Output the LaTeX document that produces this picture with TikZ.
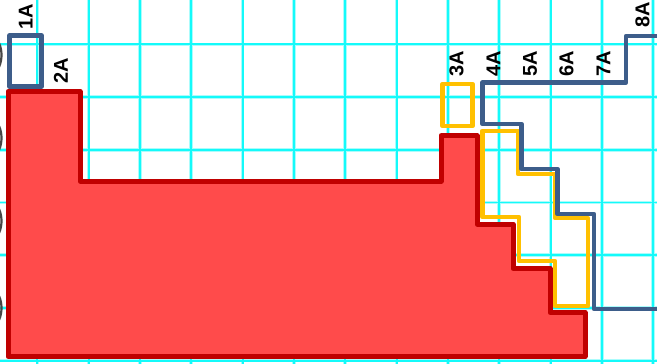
\documentclass[tikz,border=0pt]{standalone}
\usepackage{fontspec}
\setmainfont{Liberation Sans}
\definecolor{gridcyan}{RGB}{20,250,250}
\definecolor{gridglow}{RGB}{170,252,252}
\definecolor{redfill}{RGB}{255,75,75}
\definecolor{redline}{RGB}{192,0,0}
\definecolor{blueline}{RGB}{61,93,138}
\definecolor{yellowline}{RGB}{255,192,0}
\definecolor{edgegray}{RGB}{70,70,70}
\begin{document}
\begin{tikzpicture}[x=1pt,y=-1pt,line join=round,
  lbl/.style={font=\bfseries\fontsize{20}{20}\selectfont,rotate=90,inner sep=0pt,text=black},
  gridglowline/.style={draw=gridglow,line width=3.6pt},
  gridmain/.style={draw=gridcyan,line width=1.9pt},
  redshape/.style={draw=redline,fill=redfill,line width=5pt},
  blueshape/.style={draw=blueline,line width=4.6pt},
  yellowshape/.style={draw=yellowline,line width=4.6pt},
  edgearc/.style={draw=edgegray,line width=2.2pt}]
\useasboundingbox (0,0) rectangle (657,364);
\fill[white] (0,0) rectangle (657,364);
\begin{scope}
\clip (0,0) rectangle (657,364);
\foreach \i in {0,...,12}{
  \draw[gridglowline] ({37.3+51.33*\i},0) -- ({37.3+51.33*\i},364);
}
\foreach \j in {0,...,6}{
  \draw[gridglowline] (0,{44.3+52.73*\j}) -- (657,{44.3+52.73*\j});
}
\foreach \i in {0,...,12}{
  \draw[gridmain] ({37.3+51.33*\i},0) -- ({37.3+51.33*\i},364);
}
\foreach \j in {0,...,6}{
  \draw[gridmain] (0,{44.3+52.73*\j}) -- (657,{44.3+52.73*\j});
}
\foreach \y in {55,138,221,308}{
  \draw[edgearc] (-28.5,\y) circle (30);
}
% red block
\draw[redshape] (8,91.5) -- (80,91.5) -- (80,181) -- (441,181) -- (441,135.7)
  -- (477,135.7) -- (477,224) -- (513,224) -- (513,268.5) -- (550,268.5)
  -- (550,312.5) -- (585,312.5) -- (585,356.5) -- (8,356.5) -- cycle;
% blue 1A box
\draw[blueshape] (9.5,35.5) rectangle (41.5,86.5);
% yellow 3A box
\draw[yellowshape] (442.5,84) rectangle (472.5,126);
% yellow staircase
\draw[yellowshape] (482.5,130.8) -- (518,130.8) -- (518,174) -- (555,174)
  -- (555,218) -- (588,218) -- (588,306) -- (555,306) -- (555,261)
  -- (519,261) -- (519,217) -- (482.5,217) -- cycle;
% blue staircase
\draw[blueshape] (660,36) -- (626,36) -- (626,82.5) -- (482.5,82.5)
  -- (482.5,124) -- (521.5,124) -- (521.5,169) -- (557.5,169)
  -- (557.5,214) -- (594,214) -- (594,309) -- (660,309);
\end{scope}
% labels
\node[lbl] (l1) at (25.8,17) {1A};
\node[lbl] (l2) at (60.8,71) {2A};
\node[lbl] (l3) at (456.5,64) {3A};
\node[lbl] (l4) at (493.5,64) {4A};
\node[lbl] (l5) at (530,64) {5A};
\node[lbl] (l6) at (566.5,64) {6A};
\node[lbl] (l7) at (603.5,64) {7A};
\node[lbl] (l8) at (642.5,15) {8A};
\end{tikzpicture}
\end{document}
